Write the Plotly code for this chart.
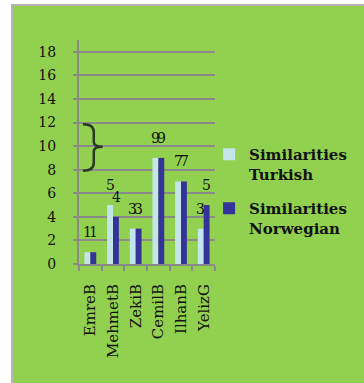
import plotly.graph_objects as go

# Similarity counts per speaker
speakers = ["EmreB", "MehmetB", "ZekiB", "CemilB", "IlhanB", "YelizG"]
turkish = [1, 5, 3, 9, 7, 3]
norwegian = [1, 4, 3, 9, 7, 5]
y_ticks = [0, 2, 4, 6, 8, 10, 12, 14, 16, 18]

W, H = 364, 383
ML, MR, MT, MB = 79, 147, 40, 119
PW = W - ML - MR
PH = H - MT - MB

GREEN = "#92D050"
LIGHT = "#C3E4E8"
DARK = "#333399"
GRID = "#8A8A8A"
SERIF = "DejaVu Serif"


def px_to_paper_x(px):
    return (px - ML) / PW


def px_to_paper_y(py):
    return (H - MB - py) / PH


fig = go.Figure()
fig.add_trace(go.Bar(
    x=speakers, y=turkish, name="<b>Similarities<br>Turkish</b>",
    marker=dict(color=LIGHT, line=dict(width=0)), legendgroup="t",
))
fig.add_trace(go.Bar(
    x=speakers, y=norwegian, name="<b>Similarities<br>Norwegian</b>",
    marker=dict(color=DARK, line=dict(width=0)), legendgroup="n",
))

# value labels above each bar
annotations = []
for vals, shift in ((turkish, -3), (norwegian, 3)):
    for cat, v in zip(speakers, vals):
        annotations.append(dict(
            x=cat, y=v, text=str(v), showarrow=False, xref="x", yref="y",
            xanchor="center", yanchor="bottom", xshift=shift, yshift=10,
            font=dict(family=SERIF, size=14, color="#111111"),
        ))

shapes = [
    # chart area background with grey frame
    dict(type="rect", xref="paper", yref="paper", layer="below",
         x0=px_to_paper_x(11), x1=px_to_paper_x(W + 20),
         y0=px_to_paper_y(H + 20), y1=px_to_paper_y(5),
         fillcolor=GREEN, line=dict(color="#B4B4B4", width=2)),
    # curly brace beside the axis
    dict(type="path", xref="paper", yref="y", layer="above",
         path=(f"M {px_to_paper_x(83)},11.85 Q {px_to_paper_x(94)},11.85 {px_to_paper_x(94)},11.2 "
               f"L {px_to_paper_x(94)},10.35 Q {px_to_paper_x(94)},9.95 {px_to_paper_x(103)},9.95 "
               f"Q {px_to_paper_x(94)},9.95 {px_to_paper_x(94)},9.55 "
               f"L {px_to_paper_x(94)},8.6 Q {px_to_paper_x(94)},7.9 {px_to_paper_x(83)},7.9"),
         line=dict(color="#2A3A22", width=2.5)),
]

fig.update_layout(
    width=W, height=H,
    margin=dict(l=ML, r=MR, t=MT, b=MB, pad=0),
    paper_bgcolor="white", plot_bgcolor="rgba(0,0,0,0)",
    barmode="group", bargap=0.48, bargroupgap=0,
    font=dict(family=SERIF, size=13, color="#111111"),
    showlegend=True,
    legend=dict(
        x=px_to_paper_x(211), y=px_to_paper_y(138), xanchor="left", yanchor="top",
        bgcolor="rgba(0,0,0,0)", font=dict(family=SERIF, size=15, color="#111111"),
        traceorder="grouped", tracegroupgap=12, valign="top", itemwidth=30,
    ),
    xaxis=dict(
        type="category", tickangle=-90, tickson="boundaries",
        ticks="outside", ticklen=5, tickcolor=GRID, tickwidth=2,
        showline=True, linecolor=GRID, linewidth=2, showgrid=False,
        tickfont=dict(family=SERIF, size=15, color="#111111"),
        ticklabelstandoff=12, fixedrange=True,
    ),
    yaxis=dict(
        range=[0, 19], tickvals=y_ticks, ticks="outside", ticklen=4,
        tickcolor=GRID, tickwidth=2, showline=True, linecolor=GRID, linewidth=2,
        showgrid=True, gridcolor=GRID, gridwidth=2, zeroline=False,
        tickfont=dict(family=SERIF, size=14, color="#111111"),
        ticklabelstandoff=14, fixedrange=True,
    ),
    annotations=annotations, shapes=shapes,
)

fig.write_html("out.html")
